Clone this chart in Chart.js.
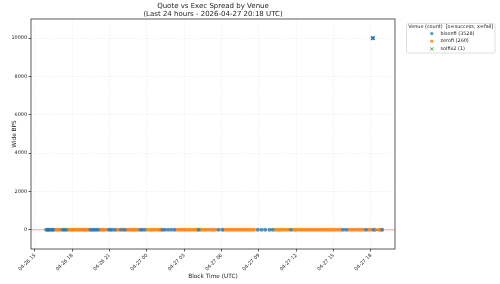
<!DOCTYPE html>
<html>
<head>
<meta charset="utf-8">
<script src="https://cdn.jsdelivr.net/npm/chart.js@4.4.1/dist/chart.umd.min.js"></script>
<style>
  html, body { margin: 0; padding: 0; background: #fff; }
  #c { display: block; }
</style>
</head>
<body>
<canvas id="c" width="500" height="284"></canvas>
<script>
// x values are hours since 2026-04-26 00:00 UTC
const titleLines = ['Quote vs Exec Spread by Venue', '(Last 24 hours - 2026-04-27 20:18 UTC)'];
const xTickHours = [15, 18, 21, 24, 27, 30, 33, 36, 39, 42];
const yTicks = [0, 2000, 4000, 6000, 8000, 10000];
const xRange = [14.68, 43.93];
const yRange = [-1000, 11000];

const bisonfiOkHours = [
  15.9, 16.0, 16.1, 16.2, 16.35, 16.45, 17.2, 17.35, 17.5, 19.45, 19.6, 19.75, 19.9, 20.05,
  20.9, 21.05, 21.2, 21.4, 21.9, 22.2, 23.45, 23.6, 23.8, 25.25, 25.45, 25.7, 25.95, 26.2,
  28.15, 29.75, 30.05, 32.9, 33.2, 33.5, 33.85, 34.1, 35.55, 39.75, 40.0, 41.6, 42.2, 42.9,
];
const bisonfiOkBps = bisonfiOkHours.map(() => 0);

const zerofiOkHours = [
  16.55, 16.7, 16.85, 17.0, 17.65, 17.8, 17.95, 18.1, 18.25, 18.4, 18.55, 18.7, 18.85, 19.0,
  19.15, 19.3, 20.2, 20.35, 20.5, 20.65, 21.55, 21.7, 22.05, 22.35, 22.5, 22.65, 22.8, 22.95,
  23.1, 23.25, 24.0, 24.2, 24.4, 24.6, 24.8, 25.0, 25.1, 26.4, 26.6, 26.8, 27.0, 27.2, 27.4,
  27.6, 27.8, 28.0, 28.3, 28.5, 28.7, 28.9, 29.1, 29.3, 29.5, 30.2, 30.4, 30.6, 30.8, 31.0,
  31.2, 31.4, 31.6, 31.8, 32.0, 32.2, 32.4, 32.6, 34.3, 34.5, 34.7, 34.9, 35.1, 35.3, 35.75,
  35.95, 36.15, 36.35, 36.55, 36.75, 36.95, 37.15, 37.35, 37.55, 37.75, 37.95, 38.15, 38.35,
  38.55, 38.75, 38.95, 39.15, 39.35, 39.55, 40.2, 40.4, 40.6, 40.8, 41.0, 41.2, 41.4, 41.8,
  42.0, 42.35, 42.65, 42.8,
];
const zerofiOkBps = zerofiOkHours.map(() => 0);

const solfiv2FailHours = [42.5];
const solfiv2FailBps = [0];

const bisonfiFailHours = [42.15];
const bisonfiFailBps = [10000];

const legendTitle = 'Venue (count)  [o=success, x=fail]';
const legendItems = [
  { label: 'bisonfi (3528)', color: '#1f77b4', mark: 'o' },
  { label: 'zerofi (260)', color: '#ff7f0e', mark: 'o' },
  { label: 'solfiv2 (1)', color: '#2ca02c', mark: 'x' },
];

const FONT = '"DejaVu Sans", sans-serif';

function pts(xs, ys) {
  return xs.map((x, i) => ({ x, y: ys[i] }));
}

function tickLabel(h) {
  const day = 26 + Math.floor(h / 24);
  const hr = h % 24;
  return `04-${day} ${String(hr).padStart(2, '0')}`;
}

function drawX(ctx, x, y, r) {
  ctx.beginPath();
  ctx.moveTo(x - r, y - r);
  ctx.lineTo(x + r, y + r);
  ctx.moveTo(x - r, y + r);
  ctx.lineTo(x + r, y - r);
  ctx.stroke();
}

const decor = {
  id: 'decor',
  beforeDatasetsDraw(chart) {
    const { ctx, chartArea: a, scales } = chart;
    const y0 = scales.y.getPixelForValue(0);
    ctx.save();
    ctx.strokeStyle = 'rgba(240, 60, 60, 0.45)';
    ctx.lineWidth = 1;
    ctx.beginPath();
    ctx.moveTo(a.left, y0);
    ctx.lineTo(a.right, y0);
    ctx.stroke();
    ctx.restore();
  },
  afterDraw(chart) {
    const { ctx, chartArea: a } = chart;
    ctx.save();
    // spines
    ctx.strokeStyle = '#333';
    ctx.lineWidth = 0.8;
    ctx.strokeRect(a.left, a.top, a.right - a.left, a.bottom - a.top);

    ctx.fillStyle = '#222';
    ctx.textAlign = 'center';
    ctx.textBaseline = 'middle';
    ctx.font = `7px ${FONT}`;
    const cx = (a.left + a.right) / 2;
    ctx.fillText(titleLines[0], cx, 6.5);
    ctx.fillText(titleLines[1], cx, 14.5);

    ctx.font = `5.8px ${FONT}`;
    ctx.fillText('Block Time (UTC)', cx, 276.5);
    ctx.save();
    ctx.translate(14.5, (a.top + a.bottom) / 2);
    ctx.rotate(-Math.PI / 2);
    ctx.fillText('Wide BPS', 0, 0);
    ctx.restore();

    // legend box
    const bx = 406.5, by = 23.5, bw = 88.5, bh = 29.5, r = 2;
    ctx.beginPath();
    ctx.moveTo(bx + r, by);
    ctx.arcTo(bx + bw, by, bx + bw, by + bh, r);
    ctx.arcTo(bx + bw, by + bh, bx, by + bh, r);
    ctx.arcTo(bx, by + bh, bx, by, r);
    ctx.arcTo(bx, by, bx + bw, by, r);
    ctx.closePath();
    ctx.fillStyle = 'rgba(255,255,255,0.8)';
    ctx.fill();
    ctx.strokeStyle = '#d6d6d6';
    ctx.lineWidth = 0.8;
    ctx.stroke();

    ctx.fillStyle = '#222';
    ctx.font = `4.9px ${FONT}`;
    ctx.textAlign = 'center';
    ctx.fillText(legendTitle, bx + bw / 2, 26.5);
    ctx.textAlign = 'left';
    legendItems.forEach((it, i) => {
      const yy = 33.5 + i * 7.7;
      if (it.mark === 'o') {
        ctx.fillStyle = it.color;
        ctx.globalAlpha = 0.8;
        ctx.beginPath();
        ctx.arc(431.8, yy, 1.6, 0, Math.PI * 2);
        ctx.fill();
        ctx.globalAlpha = 1;
      } else {
        ctx.strokeStyle = it.color;
        ctx.lineWidth = 0.9;
        drawX(ctx, 431.8, yy, 1.6);
      }
      ctx.fillStyle = '#222';
      ctx.fillText(it.label, 440.5, yy);
    });
    ctx.restore();
  },
};

const gridStyle = {
  color: 'rgba(0,0,0,0.1)',
  lineWidth: 0.7,
  tickColor: '#333',
  tickLength: 2.5,
  tickWidth: 0.8,
};
const borderStyle = { display: false, dash: [1, 1.6] };

new Chart(document.getElementById('c'), {
  type: 'scatter',
  data: {
    datasets: [
      {
        label: 'bisonfi',
        data: pts(bisonfiOkHours, bisonfiOkBps),
        backgroundColor: 'rgba(31,119,180,0.75)',
        borderWidth: 0,
        pointRadius: 2,
      },
      {
        label: 'zerofi',
        data: pts(zerofiOkHours, zerofiOkBps),
        backgroundColor: 'rgba(255,127,14,0.8)',
        borderWidth: 0,
        pointRadius: 2,
      },
      {
        label: 'solfiv2',
        data: pts(solfiv2FailHours, solfiv2FailBps),
        pointStyle: 'crossRot',
        borderColor: '#2ca02c',
        borderWidth: 1,
        pointRadius: 2.2,
      },
      {
        label: 'bisonfi fail',
        data: pts(bisonfiFailHours, bisonfiFailBps),
        pointStyle: 'crossRot',
        borderColor: '#1f77b4',
        borderWidth: 1.6,
        pointRadius: 2.5,
      },
    ],
  },
  options: {
    responsive: false,
    animation: false,
    devicePixelRatio: 1,
    layout: { padding: { top: 19, right: 105, left: 0, bottom: 0 } },
    plugins: { legend: { display: false }, title: { display: false }, tooltip: { enabled: false } },
    scales: {
      x: {
        type: 'linear',
        min: xRange[0],
        max: xRange[1],
        grid: gridStyle,
        border: borderStyle,
        afterBuildTicks(scale) {
          scale.ticks = xTickHours.map((v) => ({ value: v }));
        },
        afterFit(scale) {
          scale.height = 35;
          scale.paddingLeft = 0;
          scale.paddingRight = 0;
        },
        ticks: {
          autoSkip: false,
          minRotation: 45,
          maxRotation: 45,
          padding: 1,
          color: '#222',
          font: { family: FONT, size: 4.9 },
          callback: (v) => tickLabel(v),
        },
      },
      y: {
        min: yRange[0],
        max: yRange[1],
        grid: gridStyle,
        border: borderStyle,
        afterBuildTicks(scale) {
          scale.ticks = yTicks.map((v) => ({ value: v }));
        },
        afterFit(scale) {
          scale.width = 31;
          scale.paddingTop = 0;
          scale.paddingBottom = 0;
        },
        ticks: {
          padding: 1.5,
          color: '#222',
          font: { family: FONT, size: 4.9 },
          callback: (v) => String(v),
        },
      },
    },
  },
  plugins: [decor],
});
</script>
</body>
</html>
